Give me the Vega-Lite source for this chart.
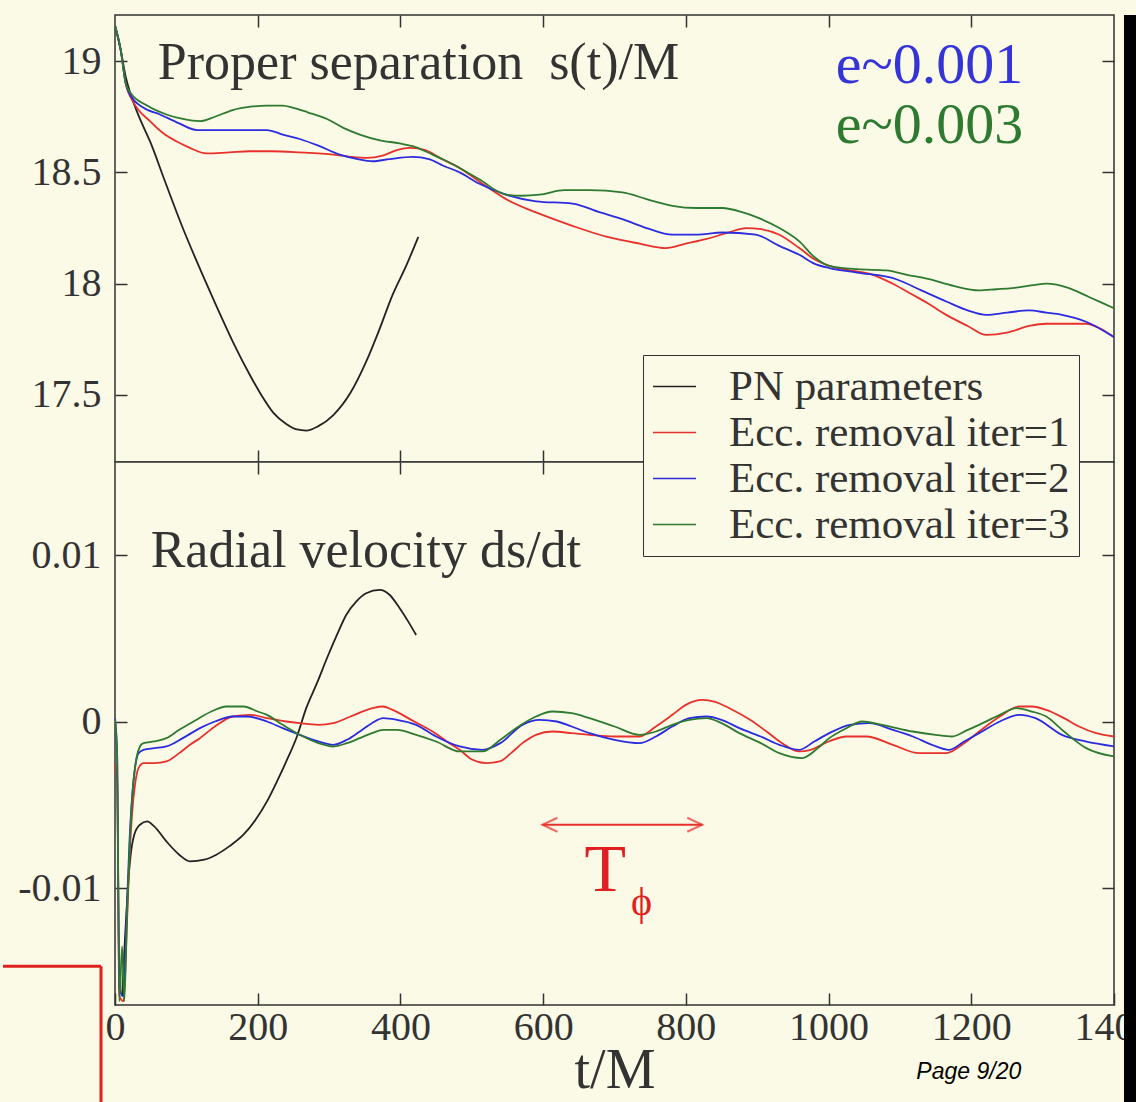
{
  "$schema": "https://vega.github.io/schema/vega-lite/v6.json",
  "background": "#fbfae6",
  "padding": {"left": 0, "top": 13, "right": 0, "bottom": 0},
  "spacing": 0,
  "bounds": "flush",
  "config": {
    "view": {"stroke": "#333333", "strokeWidth": 1.5, "fill": "#fbfae6"},
    "font": "Liberation Serif",
    "axis": {"grid": false, "domain": false, "labelFlush": false, "tickColor": "#333333", "tickWidth": 1.5, "tickSize": -12, "labelFont": "Liberation Serif", "labelFontSize": 40, "labelColor": "#333333", "labelPadding": 26, "titleFont": "Liberation Serif", "titleColor": "#333333", "titleFontWeight": "normal"},
    "legend": {"labelFont": "Liberation Serif", "labelFontSize": 43, "labelColor": "#333333", "labelLimit": 600, "symbolType": "stroke", "symbolSize": 1849, "symbolStrokeWidth": 1.5, "strokeColor": "#333333", "fillColor": "#fbfae6", "padding": 9, "labelOffset": 32, "rowPadding": 1}
  },
  "datasets": {
    "separation": [
      {"series": "PN parameters", "t": 0, "s": 19.16}, {"series": "PN parameters", "t": 8, "s": 19.05}, {"series": "PN parameters", "t": 15, "s": 18.93}, {"series": "PN parameters", "t": 21, "s": 18.86}, {"series": "PN parameters", "t": 35, "s": 18.74}, {"series": "PN parameters", "t": 49, "s": 18.64}, {"series": "PN parameters", "t": 70, "s": 18.46}, {"series": "PN parameters", "t": 95, "s": 18.25}, {"series": "PN parameters", "t": 120, "s": 18.06}, {"series": "PN parameters", "t": 142, "s": 17.9}, {"series": "PN parameters", "t": 165, "s": 17.74}, {"series": "PN parameters", "t": 189, "s": 17.59}, {"series": "PN parameters", "t": 205, "s": 17.5}, {"series": "PN parameters", "t": 222, "s": 17.42}, {"series": "PN parameters", "t": 240, "s": 17.37}, {"series": "PN parameters", "t": 255, "s": 17.345}, {"series": "PN parameters", "t": 268, "s": 17.34}, {"series": "PN parameters", "t": 285, "s": 17.36}, {"series": "PN parameters", "t": 306, "s": 17.41}, {"series": "PN parameters", "t": 330, "s": 17.51}, {"series": "PN parameters", "t": 352, "s": 17.65}, {"series": "PN parameters", "t": 370, "s": 17.79}, {"series": "PN parameters", "t": 389, "s": 17.95}, {"series": "PN parameters", "t": 408, "s": 18.08}, {"series": "PN parameters", "t": 425, "s": 18.21},

      {"series": "Ecc. removal iter=1", "t": 0, "s": 19.16}, {"series": "Ecc. removal iter=1", "t": 8, "s": 19.05}, {"series": "Ecc. removal iter=1", "t": 15, "s": 18.9}, {"series": "Ecc. removal iter=1", "t": 25, "s": 18.82}, {"series": "Ecc. removal iter=1", "t": 49, "s": 18.73}, {"series": "Ecc. removal iter=1", "t": 70, "s": 18.67}, {"series": "Ecc. removal iter=1", "t": 86, "s": 18.64}, {"series": "Ecc. removal iter=1", "t": 105, "s": 18.61}, {"series": "Ecc. removal iter=1", "t": 128, "s": 18.585}, {"series": "Ecc. removal iter=1", "t": 160, "s": 18.59}, {"series": "Ecc. removal iter=1", "t": 189, "s": 18.595}, {"series": "Ecc. removal iter=1", "t": 220, "s": 18.595}, {"series": "Ecc. removal iter=1", "t": 259, "s": 18.59}, {"series": "Ecc. removal iter=1", "t": 285, "s": 18.585}, {"series": "Ecc. removal iter=1", "t": 306, "s": 18.58}, {"series": "Ecc. removal iter=1", "t": 330, "s": 18.57}, {"series": "Ecc. removal iter=1", "t": 352, "s": 18.565}, {"series": "Ecc. removal iter=1", "t": 375, "s": 18.575}, {"series": "Ecc. removal iter=1", "t": 395, "s": 18.6}, {"series": "Ecc. removal iter=1", "t": 413, "s": 18.61}, {"series": "Ecc. removal iter=1", "t": 435, "s": 18.6}, {"series": "Ecc. removal iter=1", "t": 455, "s": 18.565}, {"series": "Ecc. removal iter=1", "t": 483, "s": 18.52}, {"series": "Ecc. removal iter=1", "t": 510, "s": 18.46}, {"series": "Ecc. removal iter=1", "t": 548, "s": 18.38}, {"series": "Ecc. removal iter=1", "t": 590, "s": 18.32}, {"series": "Ecc. removal iter=1", "t": 641, "s": 18.26}, {"series": "Ecc. removal iter=1", "t": 690, "s": 18.21}, {"series": "Ecc. removal iter=1", "t": 735, "s": 18.18}, {"series": "Ecc. removal iter=1", "t": 772, "s": 18.16}, {"series": "Ecc. removal iter=1", "t": 800, "s": 18.18}, {"series": "Ecc. removal iter=1", "t": 828, "s": 18.2}, {"series": "Ecc. removal iter=1", "t": 860, "s": 18.23}, {"series": "Ecc. removal iter=1", "t": 884, "s": 18.25}, {"series": "Ecc. removal iter=1", "t": 905, "s": 18.245}, {"series": "Ecc. removal iter=1", "t": 931, "s": 18.22}, {"series": "Ecc. removal iter=1", "t": 959, "s": 18.16}, {"series": "Ecc. removal iter=1", "t": 980, "s": 18.11}, {"series": "Ecc. removal iter=1", "t": 1001, "s": 18.08}, {"series": "Ecc. removal iter=1", "t": 1030, "s": 18.06}, {"series": "Ecc. removal iter=1", "t": 1062, "s": 18.04}, {"series": "Ecc. removal iter=1", "t": 1090, "s": 18.0}, {"series": "Ecc. removal iter=1", "t": 1118, "s": 17.95}, {"series": "Ecc. removal iter=1", "t": 1140, "s": 17.91}, {"series": "Ecc. removal iter=1", "t": 1165, "s": 17.86}, {"series": "Ecc. removal iter=1", "t": 1195, "s": 17.81}, {"series": "Ecc. removal iter=1", "t": 1221, "s": 17.77}, {"series": "Ecc. removal iter=1", "t": 1250, "s": 17.78}, {"series": "Ecc. removal iter=1", "t": 1281, "s": 17.81}, {"series": "Ecc. removal iter=1", "t": 1305, "s": 17.82}, {"series": "Ecc. removal iter=1", "t": 1327, "s": 17.82}, {"series": "Ecc. removal iter=1", "t": 1361, "s": 17.82}, {"series": "Ecc. removal iter=1", "t": 1380, "s": 17.8}, {"series": "Ecc. removal iter=1", "t": 1400, "s": 17.76},

      {"series": "Ecc. removal iter=2", "t": 0, "s": 19.16}, {"series": "Ecc. removal iter=2", "t": 8, "s": 19.05}, {"series": "Ecc. removal iter=2", "t": 15, "s": 18.9}, {"series": "Ecc. removal iter=2", "t": 21, "s": 18.85}, {"series": "Ecc. removal iter=2", "t": 40, "s": 18.79}, {"series": "Ecc. removal iter=2", "t": 63, "s": 18.76}, {"series": "Ecc. removal iter=2", "t": 90, "s": 18.72}, {"series": "Ecc. removal iter=2", "t": 115, "s": 18.69}, {"series": "Ecc. removal iter=2", "t": 140, "s": 18.69}, {"series": "Ecc. removal iter=2", "t": 165, "s": 18.69}, {"series": "Ecc. removal iter=2", "t": 190, "s": 18.69}, {"series": "Ecc. removal iter=2", "t": 213, "s": 18.69}, {"series": "Ecc. removal iter=2", "t": 235, "s": 18.67}, {"series": "Ecc. removal iter=2", "t": 259, "s": 18.65}, {"series": "Ecc. removal iter=2", "t": 285, "s": 18.62}, {"series": "Ecc. removal iter=2", "t": 315, "s": 18.58}, {"series": "Ecc. removal iter=2", "t": 340, "s": 18.56}, {"series": "Ecc. removal iter=2", "t": 361, "s": 18.55}, {"series": "Ecc. removal iter=2", "t": 385, "s": 18.56}, {"series": "Ecc. removal iter=2", "t": 417, "s": 18.57}, {"series": "Ecc. removal iter=2", "t": 440, "s": 18.56}, {"series": "Ecc. removal iter=2", "t": 460, "s": 18.53}, {"series": "Ecc. removal iter=2", "t": 483, "s": 18.5}, {"series": "Ecc. removal iter=2", "t": 510, "s": 18.45}, {"series": "Ecc. removal iter=2", "t": 548, "s": 18.4}, {"series": "Ecc. removal iter=2", "t": 590, "s": 18.37}, {"series": "Ecc. removal iter=2", "t": 641, "s": 18.36}, {"series": "Ecc. removal iter=2", "t": 680, "s": 18.32}, {"series": "Ecc. removal iter=2", "t": 711, "s": 18.29}, {"series": "Ecc. removal iter=2", "t": 745, "s": 18.25}, {"series": "Ecc. removal iter=2", "t": 781, "s": 18.22}, {"series": "Ecc. removal iter=2", "t": 815, "s": 18.22}, {"series": "Ecc. removal iter=2", "t": 851, "s": 18.23}, {"series": "Ecc. removal iter=2", "t": 898, "s": 18.22}, {"series": "Ecc. removal iter=2", "t": 931, "s": 18.17}, {"series": "Ecc. removal iter=2", "t": 959, "s": 18.13}, {"series": "Ecc. removal iter=2", "t": 980, "s": 18.09}, {"series": "Ecc. removal iter=2", "t": 1001, "s": 18.07}, {"series": "Ecc. removal iter=2", "t": 1040, "s": 18.05}, {"series": "Ecc. removal iter=2", "t": 1095, "s": 18.02}, {"series": "Ecc. removal iter=2", "t": 1130, "s": 17.97}, {"series": "Ecc. removal iter=2", "t": 1165, "s": 17.92}, {"series": "Ecc. removal iter=2", "t": 1195, "s": 17.88}, {"series": "Ecc. removal iter=2", "t": 1221, "s": 17.86}, {"series": "Ecc. removal iter=2", "t": 1250, "s": 17.87}, {"series": "Ecc. removal iter=2", "t": 1281, "s": 17.88}, {"series": "Ecc. removal iter=2", "t": 1305, "s": 17.87}, {"series": "Ecc. removal iter=2", "t": 1327, "s": 17.86}, {"series": "Ecc. removal iter=2", "t": 1360, "s": 17.83}, {"series": "Ecc. removal iter=2", "t": 1400, "s": 17.76},

      {"series": "Ecc. removal iter=3", "t": 0, "s": 19.16}, {"series": "Ecc. removal iter=3", "t": 8, "s": 19.05}, {"series": "Ecc. removal iter=3", "t": 15, "s": 18.9}, {"series": "Ecc. removal iter=3", "t": 21, "s": 18.86}, {"series": "Ecc. removal iter=3", "t": 45, "s": 18.8}, {"series": "Ecc. removal iter=3", "t": 72, "s": 18.76}, {"series": "Ecc. removal iter=3", "t": 95, "s": 18.74}, {"series": "Ecc. removal iter=3", "t": 119, "s": 18.73}, {"series": "Ecc. removal iter=3", "t": 140, "s": 18.75}, {"series": "Ecc. removal iter=3", "t": 165, "s": 18.78}, {"series": "Ecc. removal iter=3", "t": 190, "s": 18.795}, {"series": "Ecc. removal iter=3", "t": 213, "s": 18.8}, {"series": "Ecc. removal iter=3", "t": 235, "s": 18.8}, {"series": "Ecc. removal iter=3", "t": 250, "s": 18.79}, {"series": "Ecc. removal iter=3", "t": 270, "s": 18.77}, {"series": "Ecc. removal iter=3", "t": 297, "s": 18.74}, {"series": "Ecc. removal iter=3", "t": 320, "s": 18.7}, {"series": "Ecc. removal iter=3", "t": 343, "s": 18.67}, {"series": "Ecc. removal iter=3", "t": 370, "s": 18.645}, {"series": "Ecc. removal iter=3", "t": 399, "s": 18.63}, {"series": "Ecc. removal iter=3", "t": 420, "s": 18.615}, {"series": "Ecc. removal iter=3", "t": 445, "s": 18.58}, {"series": "Ecc. removal iter=3", "t": 465, "s": 18.55}, {"series": "Ecc. removal iter=3", "t": 483, "s": 18.52}, {"series": "Ecc. removal iter=3", "t": 510, "s": 18.47}, {"series": "Ecc. removal iter=3", "t": 548, "s": 18.4}, {"series": "Ecc. removal iter=3", "t": 570, "s": 18.395}, {"series": "Ecc. removal iter=3", "t": 595, "s": 18.4}, {"series": "Ecc. removal iter=3", "t": 630, "s": 18.42}, {"series": "Ecc. removal iter=3", "t": 665, "s": 18.42}, {"series": "Ecc. removal iter=3", "t": 711, "s": 18.41}, {"series": "Ecc. removal iter=3", "t": 745, "s": 18.38}, {"series": "Ecc. removal iter=3", "t": 781, "s": 18.35}, {"series": "Ecc. removal iter=3", "t": 815, "s": 18.34}, {"series": "Ecc. removal iter=3", "t": 851, "s": 18.34}, {"series": "Ecc. removal iter=3", "t": 880, "s": 18.32}, {"series": "Ecc. removal iter=3", "t": 898, "s": 18.3}, {"series": "Ecc. removal iter=3", "t": 931, "s": 18.25}, {"series": "Ecc. removal iter=3", "t": 959, "s": 18.19}, {"series": "Ecc. removal iter=3", "t": 980, "s": 18.12}, {"series": "Ecc. removal iter=3", "t": 1001, "s": 18.08}, {"series": "Ecc. removal iter=3", "t": 1040, "s": 18.065}, {"series": "Ecc. removal iter=3", "t": 1081, "s": 18.06}, {"series": "Ecc. removal iter=3", "t": 1110, "s": 18.04}, {"series": "Ecc. removal iter=3", "t": 1141, "s": 18.02}, {"series": "Ecc. removal iter=3", "t": 1175, "s": 17.99}, {"series": "Ecc. removal iter=3", "t": 1211, "s": 17.97}, {"series": "Ecc. removal iter=3", "t": 1235, "s": 17.975}, {"series": "Ecc. removal iter=3", "t": 1257, "s": 17.98}, {"series": "Ecc. removal iter=3", "t": 1290, "s": 17.995}, {"series": "Ecc. removal iter=3", "t": 1305, "s": 18.0}, {"series": "Ecc. removal iter=3", "t": 1337, "s": 17.98}, {"series": "Ecc. removal iter=3", "t": 1365, "s": 17.94}, {"series": "Ecc. removal iter=3", "t": 1400, "s": 17.89}
    ],
    "velocity": [
      {"series": "PN parameters", "t": 10, "v": -0.0165}, {"series": "PN parameters", "t": 14, "v": -0.013}, {"series": "PN parameters", "t": 18, "v": -0.01}, {"series": "PN parameters", "t": 22, "v": -0.008}, {"series": "PN parameters", "t": 27, "v": -0.0068}, {"series": "PN parameters", "t": 35, "v": -0.0062}, {"series": "PN parameters", "t": 45, "v": -0.006}, {"series": "PN parameters", "t": 55, "v": -0.0063}, {"series": "PN parameters", "t": 72, "v": -0.0072}, {"series": "PN parameters", "t": 90, "v": -0.008}, {"series": "PN parameters", "t": 105, "v": -0.0084}, {"series": "PN parameters", "t": 125, "v": -0.0083}, {"series": "PN parameters", "t": 142, "v": -0.008}, {"series": "PN parameters", "t": 160, "v": -0.0075}, {"series": "PN parameters", "t": 180, "v": -0.0068}, {"series": "PN parameters", "t": 197, "v": -0.0059}, {"series": "PN parameters", "t": 213, "v": -0.0048}, {"series": "PN parameters", "t": 227, "v": -0.0036}, {"series": "PN parameters", "t": 240, "v": -0.0024}, {"series": "PN parameters", "t": 255, "v": -0.0009}, {"series": "PN parameters", "t": 268, "v": 0.0008}, {"series": "PN parameters", "t": 283, "v": 0.0023}, {"series": "PN parameters", "t": 297, "v": 0.0038}, {"series": "PN parameters", "t": 311, "v": 0.0052}, {"series": "PN parameters", "t": 324, "v": 0.0064}, {"series": "PN parameters", "t": 338, "v": 0.0072}, {"series": "PN parameters", "t": 352, "v": 0.0077}, {"series": "PN parameters", "t": 371, "v": 0.0079}, {"series": "PN parameters", "t": 385, "v": 0.0076}, {"series": "PN parameters", "t": 399, "v": 0.0068}, {"series": "PN parameters", "t": 411, "v": 0.006}, {"series": "PN parameters", "t": 422, "v": 0.0052},

      {"series": "Ecc. removal iter=1", "t": 0, "v": -0.0025}, {"series": "Ecc. removal iter=1", "t": 3, "v": -0.0035}, {"series": "Ecc. removal iter=1", "t": 6, "v": -0.0165}, {"series": "Ecc. removal iter=1", "t": 12, "v": -0.0168}, {"series": "Ecc. removal iter=1", "t": 16, "v": -0.013}, {"series": "Ecc. removal iter=1", "t": 20, "v": -0.0085}, {"series": "Ecc. removal iter=1", "t": 24, "v": -0.0055}, {"series": "Ecc. removal iter=1", "t": 28, "v": -0.0038}, {"series": "Ecc. removal iter=1", "t": 33, "v": -0.0028}, {"series": "Ecc. removal iter=1", "t": 40, "v": -0.0025}, {"series": "Ecc. removal iter=1", "t": 55, "v": -0.0025}, {"series": "Ecc. removal iter=1", "t": 72, "v": -0.0024}, {"series": "Ecc. removal iter=1", "t": 90, "v": -0.0019}, {"series": "Ecc. removal iter=1", "t": 105, "v": -0.0014}, {"series": "Ecc. removal iter=1", "t": 119, "v": -0.001}, {"series": "Ecc. removal iter=1", "t": 140, "v": -0.0003}, {"series": "Ecc. removal iter=1", "t": 165, "v": 0.0003}, {"series": "Ecc. removal iter=1", "t": 190, "v": 0.0004}, {"series": "Ecc. removal iter=1", "t": 213, "v": 0.0002}, {"series": "Ecc. removal iter=1", "t": 240, "v": 0.0}, {"series": "Ecc. removal iter=1", "t": 259, "v": -0.0001}, {"series": "Ecc. removal iter=1", "t": 285, "v": -0.0002}, {"series": "Ecc. removal iter=1", "t": 306, "v": -0.0001}, {"series": "Ecc. removal iter=1", "t": 330, "v": 0.0003}, {"series": "Ecc. removal iter=1", "t": 361, "v": 0.0008}, {"series": "Ecc. removal iter=1", "t": 375, "v": 0.0009}, {"series": "Ecc. removal iter=1", "t": 389, "v": 0.0007}, {"series": "Ecc. removal iter=1", "t": 415, "v": 0.0001}, {"series": "Ecc. removal iter=1", "t": 445, "v": -0.0006}, {"series": "Ecc. removal iter=1", "t": 465, "v": -0.0012}, {"series": "Ecc. removal iter=1", "t": 483, "v": -0.0017}, {"series": "Ecc. removal iter=1", "t": 501, "v": -0.0023}, {"series": "Ecc. removal iter=1", "t": 520, "v": -0.0025}, {"series": "Ecc. removal iter=1", "t": 539, "v": -0.0024}, {"series": "Ecc. removal iter=1", "t": 555, "v": -0.0019}, {"series": "Ecc. removal iter=1", "t": 571, "v": -0.0013}, {"series": "Ecc. removal iter=1", "t": 590, "v": -0.0008}, {"series": "Ecc. removal iter=1", "t": 613, "v": -0.0006}, {"series": "Ecc. removal iter=1", "t": 640, "v": -0.0007}, {"series": "Ecc. removal iter=1", "t": 665, "v": -0.0008}, {"series": "Ecc. removal iter=1", "t": 700, "v": -0.0009}, {"series": "Ecc. removal iter=1", "t": 735, "v": -0.0009}, {"series": "Ecc. removal iter=1", "t": 758, "v": -0.0003}, {"series": "Ecc. removal iter=1", "t": 781, "v": 0.0004}, {"series": "Ecc. removal iter=1", "t": 800, "v": 0.001}, {"series": "Ecc. removal iter=1", "t": 823, "v": 0.0013}, {"series": "Ecc. removal iter=1", "t": 840, "v": 0.0012}, {"series": "Ecc. removal iter=1", "t": 861, "v": 0.0008}, {"series": "Ecc. removal iter=1", "t": 890, "v": 0.0001}, {"series": "Ecc. removal iter=1", "t": 913, "v": -0.0006}, {"series": "Ecc. removal iter=1", "t": 935, "v": -0.0013}, {"series": "Ecc. removal iter=1", "t": 959, "v": -0.0018}, {"series": "Ecc. removal iter=1", "t": 975, "v": -0.0017}, {"series": "Ecc. removal iter=1", "t": 1000, "v": -0.0012}, {"series": "Ecc. removal iter=1", "t": 1025, "v": -0.0009}, {"series": "Ecc. removal iter=1", "t": 1053, "v": -0.0009}, {"series": "Ecc. removal iter=1", "t": 1090, "v": -0.0014}, {"series": "Ecc. removal iter=1", "t": 1127, "v": -0.0019}, {"series": "Ecc. removal iter=1", "t": 1165, "v": -0.0019}, {"series": "Ecc. removal iter=1", "t": 1190, "v": -0.0013}, {"series": "Ecc. removal iter=1", "t": 1211, "v": -0.0006}, {"series": "Ecc. removal iter=1", "t": 1240, "v": 0.0003}, {"series": "Ecc. removal iter=1", "t": 1267, "v": 0.0009}, {"series": "Ecc. removal iter=1", "t": 1285, "v": 0.0009}, {"series": "Ecc. removal iter=1", "t": 1305, "v": 0.0007}, {"series": "Ecc. removal iter=1", "t": 1330, "v": 0.0002}, {"series": "Ecc. removal iter=1", "t": 1351, "v": -0.0003}, {"series": "Ecc. removal iter=1", "t": 1375, "v": -0.0007}, {"series": "Ecc. removal iter=1", "t": 1400, "v": -0.0009},

      {"series": "Ecc. removal iter=2", "t": 0, "v": 0.0002}, {"series": "Ecc. removal iter=2", "t": 3, "v": -0.002}, {"series": "Ecc. removal iter=2", "t": 6, "v": -0.016}, {"series": "Ecc. removal iter=2", "t": 12, "v": -0.0165}, {"series": "Ecc. removal iter=2", "t": 16, "v": -0.012}, {"series": "Ecc. removal iter=2", "t": 20, "v": -0.0075}, {"series": "Ecc. removal iter=2", "t": 24, "v": -0.0045}, {"series": "Ecc. removal iter=2", "t": 28, "v": -0.0028}, {"series": "Ecc. removal iter=2", "t": 33, "v": -0.0019}, {"series": "Ecc. removal iter=2", "t": 40, "v": -0.0017}, {"series": "Ecc. removal iter=2", "t": 55, "v": -0.0016}, {"series": "Ecc. removal iter=2", "t": 72, "v": -0.0015}, {"series": "Ecc. removal iter=2", "t": 95, "v": -0.001}, {"series": "Ecc. removal iter=2", "t": 119, "v": -0.0004}, {"series": "Ecc. removal iter=2", "t": 140, "v": 0.0}, {"series": "Ecc. removal iter=2", "t": 165, "v": 0.0003}, {"series": "Ecc. removal iter=2", "t": 185, "v": 0.0003}, {"series": "Ecc. removal iter=2", "t": 213, "v": 0.0}, {"series": "Ecc. removal iter=2", "t": 235, "v": -0.0004}, {"series": "Ecc. removal iter=2", "t": 259, "v": -0.0008}, {"series": "Ecc. removal iter=2", "t": 285, "v": -0.0012}, {"series": "Ecc. removal iter=2", "t": 306, "v": -0.0014}, {"series": "Ecc. removal iter=2", "t": 325, "v": -0.0011}, {"series": "Ecc. removal iter=2", "t": 343, "v": -0.0006}, {"series": "Ecc. removal iter=2", "t": 360, "v": -0.0001}, {"series": "Ecc. removal iter=2", "t": 376, "v": 0.0002}, {"series": "Ecc. removal iter=2", "t": 395, "v": 0.0001}, {"series": "Ecc. removal iter=2", "t": 422, "v": -0.0002}, {"series": "Ecc. removal iter=2", "t": 450, "v": -0.0009}, {"series": "Ecc. removal iter=2", "t": 483, "v": -0.0015}, {"series": "Ecc. removal iter=2", "t": 515, "v": -0.0017}, {"series": "Ecc. removal iter=2", "t": 540, "v": -0.0013}, {"series": "Ecc. removal iter=2", "t": 571, "v": -0.0002}, {"series": "Ecc. removal iter=2", "t": 595, "v": 0.0001}, {"series": "Ecc. removal iter=2", "t": 619, "v": 0.0}, {"series": "Ecc. removal iter=2", "t": 640, "v": -0.0003}, {"series": "Ecc. removal iter=2", "t": 665, "v": -0.0007}, {"series": "Ecc. removal iter=2", "t": 700, "v": -0.0011}, {"series": "Ecc. removal iter=2", "t": 735, "v": -0.0013}, {"series": "Ecc. removal iter=2", "t": 758, "v": -0.0009}, {"series": "Ecc. removal iter=2", "t": 781, "v": -0.0003}, {"series": "Ecc. removal iter=2", "t": 805, "v": 0.0002}, {"series": "Ecc. removal iter=2", "t": 829, "v": 0.0003}, {"series": "Ecc. removal iter=2", "t": 850, "v": 0.0001}, {"series": "Ecc. removal iter=2", "t": 875, "v": -0.0004}, {"series": "Ecc. removal iter=2", "t": 905, "v": -0.0009}, {"series": "Ecc. removal iter=2", "t": 931, "v": -0.0014}, {"series": "Ecc. removal iter=2", "t": 959, "v": -0.0017}, {"series": "Ecc. removal iter=2", "t": 980, "v": -0.0012}, {"series": "Ecc. removal iter=2", "t": 1001, "v": -0.0007}, {"series": "Ecc. removal iter=2", "t": 1030, "v": -0.0002}, {"series": "Ecc. removal iter=2", "t": 1057, "v": -0.0001}, {"series": "Ecc. removal iter=2", "t": 1090, "v": -0.0005}, {"series": "Ecc. removal iter=2", "t": 1118, "v": -0.0009}, {"series": "Ecc. removal iter=2", "t": 1145, "v": -0.0014}, {"series": "Ecc. removal iter=2", "t": 1169, "v": -0.0017}, {"series": "Ecc. removal iter=2", "t": 1190, "v": -0.0012}, {"series": "Ecc. removal iter=2", "t": 1211, "v": -0.0007}, {"series": "Ecc. removal iter=2", "t": 1240, "v": 0.0}, {"series": "Ecc. removal iter=2", "t": 1267, "v": 0.0004}, {"series": "Ecc. removal iter=2", "t": 1290, "v": 0.0002}, {"series": "Ecc. removal iter=2", "t": 1327, "v": -0.0008}, {"series": "Ecc. removal iter=2", "t": 1360, "v": -0.0012}, {"series": "Ecc. removal iter=2", "t": 1400, "v": -0.0015},

      {"series": "Ecc. removal iter=3", "t": 0, "v": 0.0001}, {"series": "Ecc. removal iter=3", "t": 3, "v": -0.002}, {"series": "Ecc. removal iter=3", "t": 6, "v": -0.0168}, {"series": "Ecc. removal iter=3", "t": 10, "v": -0.0135}, {"series": "Ecc. removal iter=3", "t": 13, "v": -0.0168}, {"series": "Ecc. removal iter=3", "t": 17, "v": -0.0115}, {"series": "Ecc. removal iter=3", "t": 21, "v": -0.007}, {"series": "Ecc. removal iter=3", "t": 25, "v": -0.004}, {"series": "Ecc. removal iter=3", "t": 30, "v": -0.0022}, {"series": "Ecc. removal iter=3", "t": 35, "v": -0.0015}, {"series": "Ecc. removal iter=3", "t": 40, "v": -0.0013}, {"series": "Ecc. removal iter=3", "t": 55, "v": -0.0012}, {"series": "Ecc. removal iter=3", "t": 72, "v": -0.001}, {"series": "Ecc. removal iter=3", "t": 90, "v": -0.0005}, {"series": "Ecc. removal iter=3", "t": 110, "v": 0.0}, {"series": "Ecc. removal iter=3", "t": 135, "v": 0.0006}, {"series": "Ecc. removal iter=3", "t": 156, "v": 0.0009}, {"series": "Ecc. removal iter=3", "t": 180, "v": 0.0009}, {"series": "Ecc. removal iter=3", "t": 200, "v": 0.0006}, {"series": "Ecc. removal iter=3", "t": 213, "v": 0.0004}, {"series": "Ecc. removal iter=3", "t": 235, "v": -0.0002}, {"series": "Ecc. removal iter=3", "t": 259, "v": -0.0008}, {"series": "Ecc. removal iter=3", "t": 285, "v": -0.0013}, {"series": "Ecc. removal iter=3", "t": 306, "v": -0.0015}, {"series": "Ecc. removal iter=3", "t": 325, "v": -0.0013}, {"series": "Ecc. removal iter=3", "t": 343, "v": -0.001}, {"series": "Ecc. removal iter=3", "t": 360, "v": -0.0007}, {"series": "Ecc. removal iter=3", "t": 376, "v": -0.0005}, {"series": "Ecc. removal iter=3", "t": 395, "v": -0.0005}, {"series": "Ecc. removal iter=3", "t": 422, "v": -0.0008}, {"series": "Ecc. removal iter=3", "t": 450, "v": -0.0012}, {"series": "Ecc. removal iter=3", "t": 483, "v": -0.0018}, {"series": "Ecc. removal iter=3", "t": 515, "v": -0.0018}, {"series": "Ecc. removal iter=3", "t": 540, "v": -0.0011}, {"series": "Ecc. removal iter=3", "t": 562, "v": -0.0004}, {"series": "Ecc. removal iter=3", "t": 590, "v": 0.0003}, {"series": "Ecc. removal iter=3", "t": 613, "v": 0.0006}, {"series": "Ecc. removal iter=3", "t": 640, "v": 0.0005}, {"series": "Ecc. removal iter=3", "t": 665, "v": 0.0002}, {"series": "Ecc. removal iter=3", "t": 700, "v": -0.0003}, {"series": "Ecc. removal iter=3", "t": 735, "v": -0.0008}, {"series": "Ecc. removal iter=3", "t": 758, "v": -0.0006}, {"series": "Ecc. removal iter=3", "t": 781, "v": -0.0002}, {"series": "Ecc. removal iter=3", "t": 805, "v": 0.0001}, {"series": "Ecc. removal iter=3", "t": 829, "v": 0.0002}, {"series": "Ecc. removal iter=3", "t": 850, "v": -0.0001}, {"series": "Ecc. removal iter=3", "t": 875, "v": -0.0007}, {"series": "Ecc. removal iter=3", "t": 905, "v": -0.0013}, {"series": "Ecc. removal iter=3", "t": 931, "v": -0.0019}, {"series": "Ecc. removal iter=3", "t": 963, "v": -0.0022}, {"series": "Ecc. removal iter=3", "t": 985, "v": -0.0016}, {"series": "Ecc. removal iter=3", "t": 1001, "v": -0.001}, {"series": "Ecc. removal iter=3", "t": 1025, "v": -0.0004}, {"series": "Ecc. removal iter=3", "t": 1047, "v": 0.0}, {"series": "Ecc. removal iter=3", "t": 1075, "v": -0.0002}, {"series": "Ecc. removal iter=3", "t": 1118, "v": -0.0006}, {"series": "Ecc. removal iter=3", "t": 1150, "v": -0.0008}, {"series": "Ecc. removal iter=3", "t": 1173, "v": -0.0009}, {"series": "Ecc. removal iter=3", "t": 1195, "v": -0.0005}, {"series": "Ecc. removal iter=3", "t": 1211, "v": -0.0002}, {"series": "Ecc. removal iter=3", "t": 1240, "v": 0.0004}, {"series": "Ecc. removal iter=3", "t": 1263, "v": 0.0008}, {"series": "Ecc. removal iter=3", "t": 1285, "v": 0.0006}, {"series": "Ecc. removal iter=3", "t": 1305, "v": 0.0003}, {"series": "Ecc. removal iter=3", "t": 1330, "v": -0.0006}, {"series": "Ecc. removal iter=3", "t": 1361, "v": -0.0016}, {"series": "Ecc. removal iter=3", "t": 1400, "v": -0.0021}
    ]
  },
  "vconcat": [
    {
      "width": 999,
      "height": 447,
      "layer": [
        {
          "data": {"name": "separation"},
          "mark": {"type": "line", "strokeWidth": 1.8, "interpolate": "monotone", "clip": true},
          "encoding": {
            "x": {"field": "t", "type": "quantitative", "scale": {"domain": [0, 1400], "nice": false, "zero": false}, "axis": {"orient": "bottom", "values": [200, 400, 600, 800, 1000, 1200], "labels": false, "title": null}},
            "y": {"field": "s", "type": "quantitative", "scale": {"domain": [17.199, 19.207], "nice": false, "zero": false}, "axis": {"orient": "left", "values": [17.5, 18, 18.5, 19], "format": "~g", "title": null}},
            "color": {"field": "series", "type": "nominal", "scale": {"domain": ["PN parameters", "Ecc. removal iter=1", "Ecc. removal iter=2", "Ecc. removal iter=3"], "range": ["#222222", "#e8302c", "#2b2be0", "#2e7a30"]}, "legend": {"orient": "none", "legendX": 528, "legendY": 340, "title": null}}
          }
        },
        {
          "data": {"values": [{}]},
          "mark": {"type": "text", "align": "left", "baseline": "alphabetic", "fontSize": 52, "color": "#333333", "font": "Liberation Serif"},
          "encoding": {
            "x": {"datum": 60, "type": "quantitative", "scale": {"domain": [0, 1400], "nice": false, "zero": false}, "axis": {"orient": "top", "values": [200, 400, 600, 800, 1000, 1200], "labels": false, "title": null}},
            "y": {"datum": 18.92, "type": "quantitative", "scale": {"domain": [17.199, 19.207], "nice": false, "zero": false}, "axis": {"orient": "right", "values": [17.5, 18, 18.5, 19], "labels": false, "title": null}},
            "text": {"value": "Proper separation\u00a0 s(t)/M"}
          }
        },
        {
          "data": {"values": [{}]},
          "mark": {"type": "text", "align": "left", "baseline": "alphabetic", "fontSize": 58, "color": "#3434d8", "font": "Liberation Serif"},
          "encoding": {
            "x": {"datum": 1010, "type": "quantitative", "axis": null},
            "y": {"datum": 18.9, "type": "quantitative", "axis": null},
            "text": {"value": "e~0.001"}
          }
        },
        {
          "data": {"values": [{}]},
          "mark": {"type": "text", "align": "left", "baseline": "alphabetic", "fontSize": 58, "color": "#2e7a30", "font": "Liberation Serif"},
          "encoding": {
            "x": {"datum": 1010, "type": "quantitative", "axis": null},
            "y": {"datum": 18.63, "type": "quantitative", "axis": null},
            "text": {"value": "e~0.003"}
          }
        },
        {
          "data": {"values": [{}]},
          "mark": {"type": "rect", "color": "#000000"},
          "encoding": {
            "x": {"datum": 1414, "type": "quantitative", "axis": null},
            "x2": {"datum": 1470},
            "y": {"datum": 19.207, "type": "quantitative", "axis": null},
            "y2": {"datum": 17.199}
          }
        }
      ],
      "resolve": {"axis": {"x": "independent", "y": "independent"}}
    },
    {
      "width": 999,
      "height": 543,
      "layer": [
        {
          "data": {"name": "velocity"},
          "mark": {"type": "line", "strokeWidth": 1.8, "interpolate": "monotone", "clip": true},
          "encoding": {
            "x": {"field": "t", "type": "quantitative", "scale": {"domain": [0, 1400], "nice": false, "zero": false}, "axis": {"orient": "bottom", "values": [0, 200, 400, 600, 800, 1000, 1200, 1400], "format": "d", "labelFlush": false, "labelOverlap": false, "labelPadding": 14, "title": "t/M", "titleFontSize": 56, "titlePadding": -4}},
            "y": {"field": "v", "type": "quantitative", "scale": {"domain": [-0.017027, 0.015586], "nice": false, "zero": false}, "axis": {"orient": "left", "values": [-0.01, 0, 0.01], "labelExpr": "replace(format(datum.value, '~g'), '\u2212', '-')", "title": null}},
            "color": {"field": "series", "type": "nominal", "scale": {"domain": ["PN parameters", "Ecc. removal iter=1", "Ecc. removal iter=2", "Ecc. removal iter=3"], "range": ["#222222", "#e8302c", "#2b2be0", "#2e7a30"]}, "legend": {"orient": "none", "legendX": 528, "legendY": 340, "title": null}}
          }
        },
        {
          "data": {"values": [{}]},
          "mark": {"type": "text", "align": "left", "baseline": "alphabetic", "fontSize": 52, "color": "#333333", "font": "Liberation Serif"},
          "encoding": {
            "x": {"datum": 50, "type": "quantitative", "scale": {"domain": [0, 1400], "nice": false, "zero": false}, "axis": {"orient": "top", "values": [200, 400, 600, 800, 1000, 1200], "labels": false, "title": null}},
            "y": {"datum": 0.0093, "type": "quantitative", "scale": {"domain": [-0.017027, 0.015586], "nice": false, "zero": false}, "axis": {"orient": "right", "values": [-0.01, 0, 0.01], "labels": false, "title": null}},
            "text": {"value": "Radial velocity ds/dt"}
          }
        },
        {
          "data": {"values": [{}]},
          "mark": {"type": "rule", "color": "#e8302c", "strokeWidth": 2},
          "encoding": {
            "x": {"datum": 599, "type": "quantitative", "axis": null},
            "x2": {"datum": 823},
            "y": {"datum": -0.0062, "type": "quantitative", "axis": null}
          }
        },
        {
          "data": {"values": [{}]},
          "mark": {"type": "point", "shape": "M3,-1.4L0,0L3,1.4", "size": 100, "filled": false, "color": "#e8302c", "strokeWidth": 2},
          "encoding": {
            "x": {"datum": 599, "type": "quantitative", "axis": null},
            "y": {"datum": -0.0062, "type": "quantitative", "axis": null}
          }
        },
        {
          "data": {"values": [{}]},
          "mark": {"type": "point", "shape": "M-3,-1.4L0,0L-3,1.4", "size": 100, "filled": false, "color": "#e8302c", "strokeWidth": 2},
          "encoding": {
            "x": {"datum": 823, "type": "quantitative", "axis": null},
            "y": {"datum": -0.0062, "type": "quantitative", "axis": null}
          }
        },
        {
          "data": {"values": [{}]},
          "mark": {"type": "text", "align": "center", "baseline": "alphabetic", "fontSize": 68, "color": "#e02020", "font": "Liberation Serif"},
          "encoding": {
            "x": {"datum": 687, "type": "quantitative", "axis": null},
            "y": {"datum": -0.0102, "type": "quantitative", "axis": null},
            "text": {"value": "T"}
          }
        },
        {
          "data": {"values": [{}]},
          "mark": {"type": "text", "align": "center", "baseline": "alphabetic", "fontSize": 40, "color": "#e02020", "font": "Liberation Serif"},
          "encoding": {
            "x": {"datum": 738, "type": "quantitative", "axis": null},
            "y": {"datum": -0.0116, "type": "quantitative", "axis": null},
            "text": {"value": "ϕ"}
          }
        },
        {
          "data": {"values": [{}]},
          "mark": {"type": "text", "align": "left", "baseline": "alphabetic", "fontSize": 23, "fontStyle": "italic", "color": "#000000", "font": "Liberation Sans"},
          "encoding": {
            "x": {"datum": 1123, "type": "quantitative", "axis": null},
            "y": {"datum": -0.0215, "type": "quantitative", "axis": null},
            "text": {"value": "Page 9/20"}
          }
        },
        {
          "data": {"values": [{}]},
          "mark": {"type": "rule", "color": "#e0201c", "strokeWidth": 3},
          "encoding": {
            "x": {"datum": -157, "type": "quantitative", "axis": null},
            "x2": {"datum": -19.6},
            "y": {"datum": -0.0147, "type": "quantitative", "axis": null}
          }
        },
        {
          "data": {"values": [{}]},
          "mark": {"type": "rule", "color": "#e0201c", "strokeWidth": 3},
          "encoding": {
            "x": {"datum": -19.6, "type": "quantitative", "axis": null},
            "y": {"datum": -0.0147, "type": "quantitative", "axis": null},
            "y2": {"datum": -0.03}
          }
        },
        {
          "data": {"values": [{}]},
          "mark": {"type": "rect", "color": "#000000"},
          "encoding": {
            "x": {"datum": 1414, "type": "quantitative", "axis": null},
            "x2": {"datum": 1470},
            "y": {"datum": 0.015586, "type": "quantitative", "axis": null},
            "y2": {"datum": -0.03}
          }
        }
      ],
      "resolve": {"axis": {"x": "independent", "y": "independent"}}
    }
  ]
}
